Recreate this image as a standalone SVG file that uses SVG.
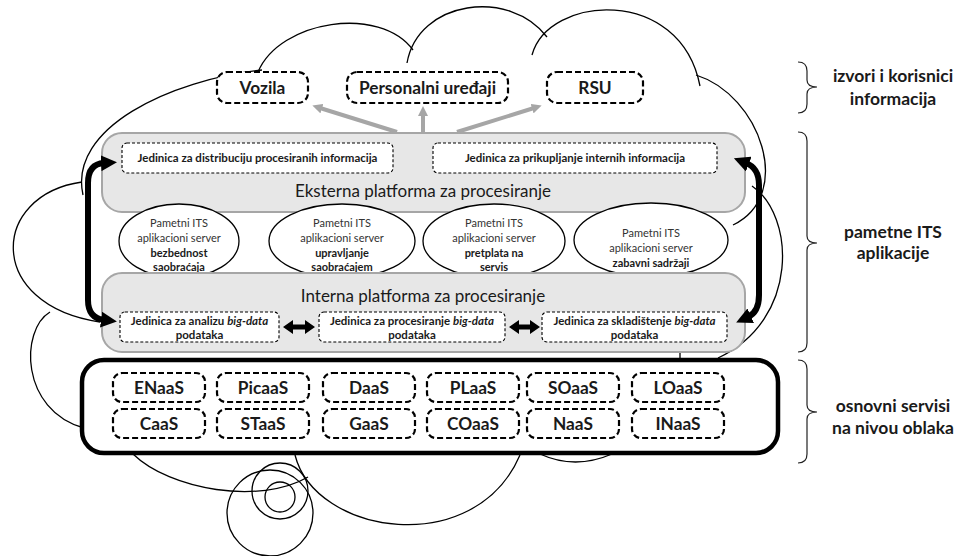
<svg xmlns="http://www.w3.org/2000/svg" width="962" height="556" viewBox="0 0 962 556">
<defs>
<style>
.cloud{fill:none;stroke:#000;stroke-width:1.3}
.plat{fill:#e7e7e7;stroke:#a6a6a6;stroke-width:2}
.dbox{fill:#fff;stroke:#000;stroke-width:2.2;stroke-dasharray:6 3}
.sbox{fill:#fff;stroke:#000;stroke-width:1.1;stroke-dasharray:3 2}
.ell{fill:#fff;stroke:#000;stroke-width:1.3}
.t{font-family:Lato,"Open Sans",sans-serif;fill:#1a1a1a;text-anchor:middle}
.big{font-size:17.3px;font-weight:bold}
.plab{font-size:17px}
.small{font-size:11.5px;font-weight:bold}
.et{font-size:11px;fill:#333}
.etb{font-size:11px;font-weight:bold}
.lab{font-size:17.5px;font-weight:bold}
.brace{fill:none;stroke:#222;stroke-width:1.2}
.garr{stroke:#a6a6a6;stroke-width:4;fill:none}
.barr{stroke:#000;stroke-width:6;fill:none}
</style>
<marker id="gh" viewBox="0 0 10 10" refX="2" refY="5" markerWidth="10" markerHeight="10" markerUnits="userSpaceOnUse" orient="auto"><path d="M0,0 L10,5 L0,10 z" fill="#a6a6a6"/></marker>
<marker id="bh" viewBox="0 0 16 16" refX="3" refY="8" markerWidth="16" markerHeight="16" markerUnits="userSpaceOnUse" orient="auto-start-reverse"><path d="M0,0 L16,8 L0,16 z" fill="#000"/></marker>
</defs>
<rect width="962" height="556" fill="#fff"/>
<g id="cloud">
<path class="cloud" d="M262,70 C170,80 68,128 83,195"/>
<path class="cloud" d="M258,72 C280,20 380,5 413,50"/>
<path class="cloud" d="M407,63 C418,0 510,-12 547,37"/>
<path class="cloud" d="M532,55 C548,-5 680,-15 700,86"/>
<path class="cloud" d="M696,75 C760,95 795,195 733,225"/>
<path class="cloud" d="M752,186 C795,215 800,320 718,358"/>
<path class="cloud" d="M82,182 C-10,195 -15,305 100,322"/>
<path class="cloud" d="M50,312 C20,330 20,410 84,428"/>
<path class="cloud" d="M133,454 C170,490 260,505 308,477"/>
<path class="cloud" d="M295,455 C315,535 475,560 520,455"/>
<path class="cloud" d="M540,454 Q575,470 612,454"/>
<path class="cloud" d="M680,350 L680,360"/>
<circle class="cloud" cx="270" cy="513" r="43"/>
<circle class="cloud" cx="280" cy="491" r="28"/>
<circle class="cloud" cx="280" cy="497" r="15"/>
</g>
<g id="vozila"><rect class="dbox" x="217" y="72" width="91" height="31" rx="10"/><text class="t big" x="262.5" y="94">Vozila</text></g>
<g id="personalni"><rect class="dbox" x="347" y="72" width="161" height="31" rx="10"/><text class="t big" x="427.5" y="94">Personalni uređaji</text></g>
<g id="rsu"><rect class="dbox" x="547" y="72" width="96" height="31" rx="10"/><text class="t big" x="595" y="94">RSU</text></g>
<g id="eksterna">
<rect class="plat" x="102" y="133" width="643" height="79" rx="20"/>
<text class="t plab" x="423" y="197">Eksterna platforma za procesiranje</text>
</g>
<g id="distribucija"><rect class="sbox" x="122" y="143" width="271" height="30" rx="5"/><text class="t small" x="257.5" y="162">Jedinica za distribuciju procesiranih informacija</text></g>
<g id="prikupljanje"><rect class="sbox" x="433" y="143" width="284" height="30" rx="5"/><text class="t small" x="575" y="162">Jedinica za prikupljanje internih informacija</text></g>
<g id="srv1"><ellipse class="ell" cx="179" cy="241" rx="60" ry="37"/>
<text class="t et" x="179" y="226.5">Pametni ITS</text><text class="t et" x="179" y="241.5">aplikacioni server</text>
<text class="t etb" x="179" y="256.5">bezbednost</text><text class="t etb" x="179" y="271">saobraćaja</text></g>
<g id="srv2"><ellipse class="ell" cx="342" cy="241" rx="73" ry="37"/>
<text class="t et" x="342" y="226.5">Pametni ITS</text><text class="t et" x="342" y="241.5">aplikacioni server</text>
<text class="t etb" x="342" y="256.5">upravljanje</text><text class="t etb" x="342" y="271">saobraćajem</text></g>
<g id="srv3"><ellipse class="ell" cx="494" cy="241" rx="71" ry="37"/>
<text class="t et" x="494" y="226.5">Pametni ITS</text><text class="t et" x="494" y="241.5">aplikacioni server</text>
<text class="t etb" x="494" y="256.5">pretplata na</text><text class="t etb" x="494" y="271">servis</text></g>
<g id="srv4"><ellipse class="ell" cx="651" cy="240" rx="77" ry="37"/>
<text class="t et" x="651" y="236.5">Pametni ITS</text><text class="t et" x="651" y="251.5">aplikacioni server</text>
<text class="t etb" x="651" y="266.5">zabavni sadržaji</text></g>
<g id="interna">
<rect class="plat" x="102" y="273" width="643" height="79" rx="20"/>
<text class="t plab" x="423" y="302">Interna platforma za procesiranje</text>
</g>
<g id="analiza"><rect class="sbox" x="120" y="312" width="159" height="30" rx="5"/>
<text class="t small" x="199.5" y="324.5">Jedinica za analizu <tspan font-style="italic">big-data</tspan></text><text class="t small" x="199.5" y="339">podataka</text></g>
<g id="procesiranje"><rect class="sbox" x="319" y="312" width="186" height="30" rx="5"/>
<text class="t small" x="412" y="324.5">Jedinica za procesiranje <tspan font-style="italic">big-data</tspan></text><text class="t small" x="412" y="339">podataka</text></g>
<g id="skladistenje"><rect class="sbox" x="542" y="312" width="185" height="30" rx="5"/>
<text class="t small" x="634.5" y="324.5">Jedinica za skladištenje <tspan font-style="italic">big-data</tspan></text><text class="t small" x="634.5" y="339">podataka</text></g>
<g id="osnovni">
<rect x="82" y="360" width="696" height="93" rx="22" fill="#fff" stroke="#000" stroke-width="4.5"/>
</g>
<g id="services">
<g id="enaas"><rect class="dbox" x="113" y="373" width="92" height="29" rx="9"/><text class="t big" x="159" y="394">ENaaS</text></g>
<g id="picaas"><rect class="dbox" x="217" y="373" width="92" height="29" rx="9"/><text class="t big" x="263" y="394">PicaaS</text></g>
<g id="daas"><rect class="dbox" x="323" y="373" width="92" height="29" rx="9"/><text class="t big" x="369" y="394">DaaS</text></g>
<g id="plaas"><rect class="dbox" x="427" y="373" width="92" height="29" rx="9"/><text class="t big" x="473" y="394">PLaaS</text></g>
<g id="soaas"><rect class="dbox" x="527" y="373" width="92" height="29" rx="9"/><text class="t big" x="573" y="394">SOaaS</text></g>
<g id="loaas"><rect class="dbox" x="632" y="373" width="92" height="29" rx="9"/><text class="t big" x="678" y="394">LOaaS</text></g>
<g id="caas"><rect class="dbox" x="113" y="409" width="92" height="29" rx="9"/><text class="t big" x="159" y="430">CaaS</text></g>
<g id="staas"><rect class="dbox" x="217" y="409" width="92" height="29" rx="9"/><text class="t big" x="263" y="430">STaaS</text></g>
<g id="gaas"><rect class="dbox" x="323" y="409" width="92" height="29" rx="9"/><text class="t big" x="369" y="430">GaaS</text></g>
<g id="coaas"><rect class="dbox" x="427" y="409" width="92" height="29" rx="9"/><text class="t big" x="473" y="430">COaaS</text></g>
<g id="naas"><rect class="dbox" x="527" y="409" width="92" height="29" rx="9"/><text class="t big" x="573" y="430">NaaS</text></g>
<g id="inaas"><rect class="dbox" x="632" y="409" width="92" height="29" rx="9"/><text class="t big" x="678" y="430">INaaS</text></g>
</g>
<g id="connectors">
<line class="garr" x1="397" y1="132" x2="320" y2="108" marker-end="url(#gh)"/>
<line class="garr" x1="423" y1="132" x2="423" y2="114" marker-end="url(#gh)"/>
<line class="garr" x1="457" y1="132" x2="534" y2="108" marker-end="url(#gh)"/>
<path class="barr" d="M104,163 Q88,164 88,183 L88,300 Q88,318 104,320" marker-start="url(#bh)" marker-end="url(#bh)"/>
<path class="barr" d="M746,163 Q759,168 759,185 L759,295 Q759,312 748,317" marker-start="url(#bh)" marker-end="url(#bh)"/>
<path d="M283,327 L293,320 L293,324.5 L305,324.5 L305,320 L315,327 L305,334 L305,329.5 L293,329.5 L293,334 Z" fill="#000"/>
<path d="M509,327 L519,320 L519,324.5 L530,324.5 L530,320 L540,327 L530,334 L530,329.5 L519,329.5 L519,334 Z" fill="#000"/>
</g>
<g id="labels">
<path class="brace" d="M798,62 Q807,62 807,71 L807,80 Q807,87 817,87 Q807,87 807,94 L807,104 Q807,113 798,113"/>
<path class="brace" d="M798,132 Q807,132 807,141 L807,236 Q807,243 817,243 Q807,243 807,250 L807,343 Q807,352 798,352"/>
<path class="brace" d="M798,360 Q807,360 807,369 L807,405 Q807,412 817,412 Q807,412 807,419 L807,454 Q807,463 798,463"/>
<text class="t lab" x="893" y="82">izvori i korisnici</text>
<text class="t lab" x="893" y="105">informacija</text>
<text class="t lab" x="893" y="238">pametne ITS</text>
<text class="t lab" x="893" y="259">aplikacije</text>
<text class="t lab" x="893" y="412">osnovni servisi</text>
<text class="t lab" x="893" y="434">na nivou oblaka</text>
</g>
</svg>
